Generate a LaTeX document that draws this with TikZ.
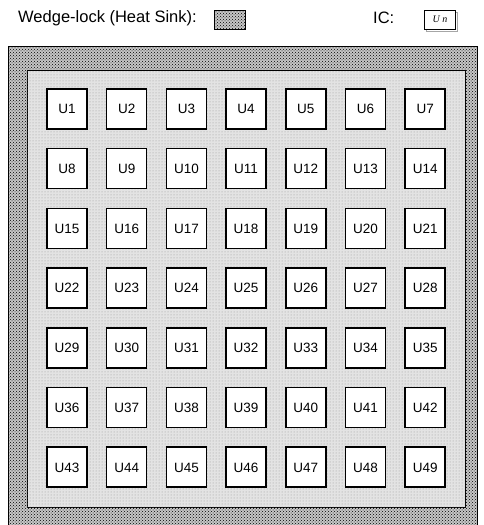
\documentclass[tikz,border=0pt]{standalone}
\usepackage{fontspec}
\setmainfont{Liberation Sans}
\newfontfamily\icfont{Liberation Serif}
\usetikzlibrary{patterns}

\begin{document}
\begin{tikzpicture}[x=1pt,y=-1pt,
    chip/.style={draw,line width=1.5pt,fill=white,minimum size=40pt,inner sep=0pt,
      text height=9.7pt,text depth=0pt,font=\fontsize{13.5}{14}\selectfont},
    sink/.style={draw,line width=0.6pt,fill=gray!45,postaction={pattern=crosshatch dots,pattern color=black}},
    board/.style={draw,line width=0.9pt,fill=gray!22,postaction={pattern=dots,pattern color=gray!80}},
    legend/.style={anchor=west,inner sep=0pt,font=\fontsize{16.5}{18}\selectfont}]
\useasboundingbox (0,0) rectangle (483,525);
% legend
\node[legend] (wl) at (18,18) {Wedge-lock (Heat Sink):};
\path[sink] (214,10) rectangle (245,29);
\node[legend] (ic) at (373,18) {IC:};
\draw[line width=1pt,gray!70] (426.5,12) rectangle (457.5,31);
\node[draw,fill=white,line width=0.9pt,minimum width=31pt,minimum height=19pt,inner sep=0pt,
  font=\icfont\itshape\fontsize{10}{10}\selectfont] (icbox) at (440,19.5) {U n};
% heat sink and board
\path[sink] (8,46) rectangle (477,525);
\path[board] (27,70) rectangle (465,507);
% chips
\foreach \r in {0,...,6}
  \foreach \c in {0,...,6}{
    \pgfmathtruncatemacro{\n}{7*\r+\c+1}
    \node[chip] (u\n) at (67+59.7*\c,109+59.7*\r) {U\n};
  }
\end{tikzpicture}
\end{document}
